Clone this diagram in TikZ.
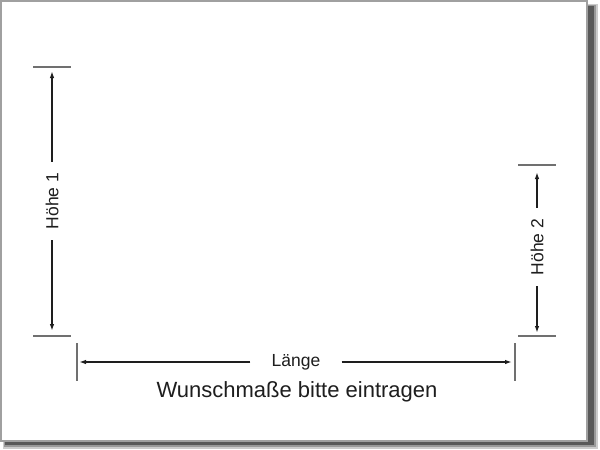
\documentclass[tikz,border=0pt]{standalone}
\usepackage{fontspec}
\setmainfont{Liberation Sans}
\usetikzlibrary{arrows.meta}
\definecolor{tickgray}{HTML}{707070}
\definecolor{framegray}{HTML}{A0A0A0}
\definecolor{inkgray}{HTML}{1E1E1E}

\begin{document}
\begin{tikzpicture}[x=1pt, y=-1pt,
    dimlabel/.style={inner xsep=11pt, inner ysep=0pt, font=\fontsize{17.5}{17.5}\selectfont, text=inkgray},
    dimarrow/.style={draw=inkgray, line width=1.4pt, -{Latex[length=7pt,width=4.5pt]}},
    tickline/.style={draw=tickgray, line width=1.1pt}]
\useasboundingbox (0,0) rectangle (600,450);
% frame with shadow
\fill[black!20] (3,4) rectangle (598,449);
\fill[black!40] (4,5) rectangle (596,447);
\fill[black!65] (5,6) rectangle (594,445);
\fill[white, draw=framegray, line width=1.5pt] (0.75,0.75) rectangle (587,441);

% Hoehe 1
\coordinate (h1a) at (33,67);  \coordinate (h1b) at (71,67);
\coordinate (h1c) at (33,336); \coordinate (h1d) at (71,336);
\coordinate (h1top) at (52,71); \coordinate (h1bot) at (52,331);
\node[dimlabel, rotate=90] (h1) at (52,201) {Höhe 1};
\path[tickline] (h1a) -- (h1b);
\path[tickline] (h1c) -- (h1d);
\path[dimarrow] (h1) -- (h1top);
\path[dimarrow] (h1) -- (h1bot);

% Hoehe 2
\coordinate (h2a) at (518,165); \coordinate (h2b) at (556,165);
\coordinate (h2c) at (518,336); \coordinate (h2d) at (556,336);
\coordinate (h2top) at (537,172); \coordinate (h2bot) at (537,333);
\node[dimlabel, rotate=90] (h2) at (537,247) {Höhe 2};
\path[tickline] (h2a) -- (h2b);
\path[tickline] (h2c) -- (h2d);
\path[dimarrow] (h2) -- (h2top);
\path[dimarrow] (h2) -- (h2bot);

% Laenge
\coordinate (la) at (77,343);  \coordinate (lb) at (77,381);
\coordinate (lc) at (515,343); \coordinate (ld) at (515,381);
\coordinate (lleft) at (79,362); \coordinate (lright) at (512,362);
\node[dimlabel, inner xsep=21pt] (len) at (296,362) {Länge};
\path[tickline] (la) -- (lb);
\path[tickline] (lc) -- (ld);
\path[dimarrow] (len) -- (lleft);
\path[dimarrow] (len) -- (lright);

\node[anchor=base, text=inkgray, font=\fontsize{22}{22}\selectfont] (hint) at (297,397) {Wunschmaße bitte eintragen};
\end{tikzpicture}
\end{document}
